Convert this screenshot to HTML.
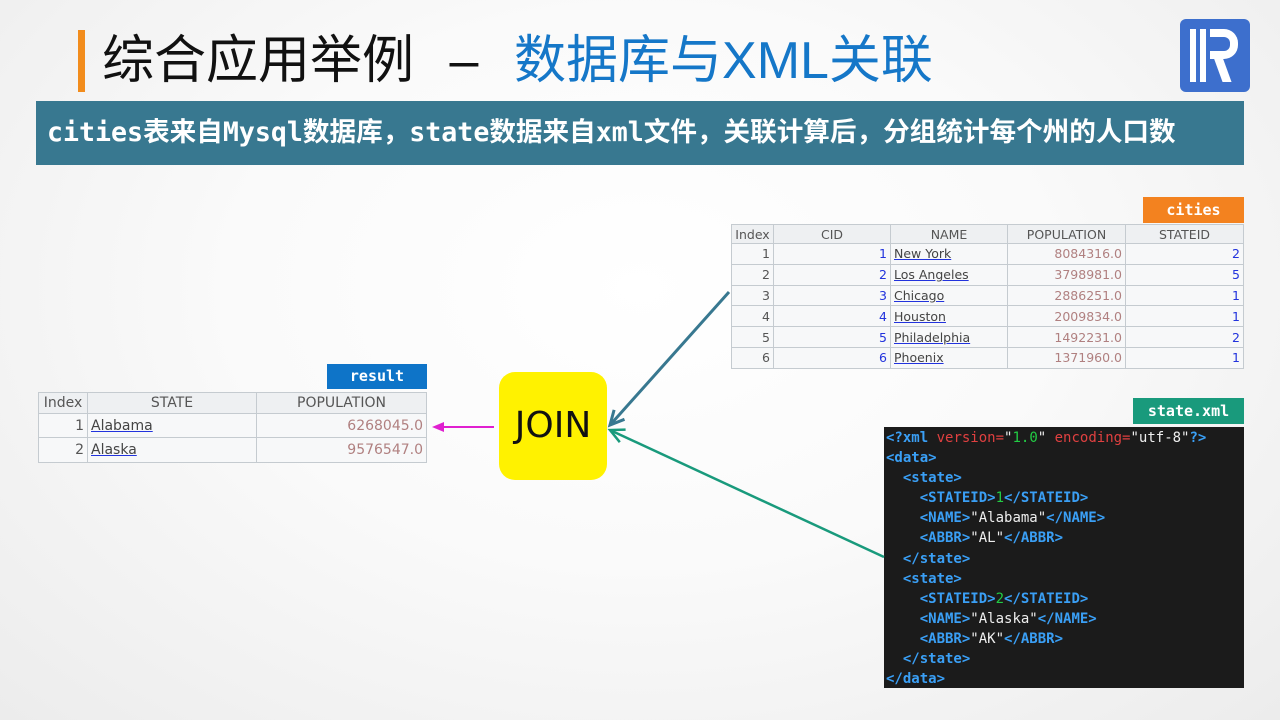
<!DOCTYPE html>
<html><head><meta charset="utf-8"><style>
*{margin:0;padding:0;box-sizing:border-box}
body{width:1280px;height:720px;overflow:hidden;position:relative;font-family:"Liberation Sans","Noto Sans CJK SC",sans-serif;background:radial-gradient(ellipse at 50% 40%,#ffffff 0%,#fafafa 45%,#ececec 100%)}
.abs{position:absolute}
.lbl{position:absolute;color:#fff;font-family:"DejaVu Sans Mono","Liberation Mono",monospace;font-weight:bold;font-size:15px;text-align:center}
table{border-collapse:collapse;position:absolute;font-family:"DejaVu Sans","Liberation Sans",sans-serif;font-size:12.5px;color:#555}
td,th{border:1.5px solid #c5cbd0;padding:0 3px;white-space:nowrap}
th{background:#eef0f2;font-weight:normal;color:#555}
td{background:#f7f8f9}
.r{text-align:right}.b{color:#2233dd}.p{color:#b08080}
.u{text-decoration:underline;text-decoration-color:#2233dd;color:#444}
.x{position:absolute;left:884px;top:427px;width:360px;height:261px;background:#1b1b1b;font-family:"DejaVu Sans Mono","Liberation Mono",monospace;font-size:14px;line-height:20.1px;padding:1px 0 0 2px;color:#eee;white-space:pre}
.t{color:#3a9ff5;font-weight:bold}.a{color:#e04040}.g{color:#22cc44}
</style></head><body>
<div class="abs" style="left:78px;top:30px;width:7px;height:62px;background:#f28c1c"></div>
<div class="abs" style="left:102px;top:27px;font-size:52px;line-height:68px;color:#111;white-space:nowrap">综合应用举例<span style="display:inline-block;width:100px;text-align:center">–</span><span style="color:#1577c8">数据库与XML关联</span></div>
<div class="abs" style="left:1180px;top:19px;width:70px;height:73px;background:#3d6fcd;border-radius:6px">
<div class="abs" style="left:10px;top:10px;width:6px;height:53px;background:#fff"></div>
<div class="abs" style="left:20px;top:10px;width:6px;height:53px;background:#fff"></div>
<div class="abs" style="left:30px;top:10px;width:28px;height:30px;border:8px solid #fff;border-left:none;border-radius:0 14px 14px 0"></div>
<div class="abs" style="left:38px;top:38px;width:22px;height:25px;border-left:9px solid #fff;transform:skewX(20deg)"></div>
</div>
<div class="abs" style="left:36px;top:101px;width:1208px;height:64px;background:#387890;color:#fff;font-size:26.6px;font-weight:bold;line-height:64px;padding-left:11px;white-space:nowrap;font-family:'DejaVu Sans Mono','Noto Sans CJK SC',monospace">cities表来自Mysql数据库，state数据来自xml文件，关联计算后，分组统计每个州的人口数</div>

<div class="lbl" style="left:1143px;top:197px;width:101px;height:26px;line-height:26px;background:#f3821f">cities</div>
<table style="left:731px;top:224px;width:513px">
<tr style="height:19px"><th style="width:42px">Index</th><th style="width:117px">CID</th><th style="width:117px">NAME</th><th style="width:118px">POPULATION</th><th>STATEID</th></tr>
<tr style="height:20.8px"><td class="r">1</td><td class="r b">1</td><td><span class="u">New York</span></td><td class="r p">8084316.0</td><td class="r b">2</td></tr>
<tr style="height:20.8px"><td class="r">2</td><td class="r b">2</td><td><span class="u">Los Angeles</span></td><td class="r p">3798981.0</td><td class="r b">5</td></tr>
<tr style="height:20.8px"><td class="r">3</td><td class="r b">3</td><td><span class="u">Chicago</span></td><td class="r p">2886251.0</td><td class="r b">1</td></tr>
<tr style="height:20.8px"><td class="r">4</td><td class="r b">4</td><td><span class="u">Houston</span></td><td class="r p">2009834.0</td><td class="r b">1</td></tr>
<tr style="height:20.8px"><td class="r">5</td><td class="r b">5</td><td><span class="u">Philadelphia</span></td><td class="r p">1492231.0</td><td class="r b">2</td></tr>
<tr style="height:20.8px"><td class="r">6</td><td class="r b">6</td><td><span class="u">Phoenix</span></td><td class="r p">1371960.0</td><td class="r b">1</td></tr>
</table>

<div class="lbl" style="left:327px;top:364px;width:100px;height:25px;line-height:25px;background:#0e74c8">result</div>
<table style="left:38px;top:392px;width:389px;font-size:14px">
<tr style="height:21px"><th style="width:49px">Index</th><th style="width:169px">STATE</th><th>POPULATION</th></tr>
<tr style="height:24px"><td class="r">1</td><td><span class="u">Alabama</span></td><td class="r p">6268045.0</td></tr>
<tr style="height:25px"><td class="r">2</td><td><span class="u">Alaska</span></td><td class="r p">9576547.0</td></tr>
</table>

<div class="abs" style="left:499px;top:372px;width:108px;height:108px;background:#fff200;border-radius:16px;text-align:center;line-height:108px;font-size:36px;color:#111;font-family:'DejaVu Sans',sans-serif">JOIN</div>

<div class="lbl" style="left:1133px;top:398px;width:111px;height:26px;line-height:26px;background:#199a7c">state.xml</div>
<div class="x"><span class="t">&lt;?xml</span> <span class="a">version=</span>"<span class="g">1.0</span>" <span class="a">encoding=</span>"utf-8"<span class="t">?&gt;</span>
<span class="t">&lt;data&gt;</span>
  <span class="t">&lt;state&gt;</span>
    <span class="t">&lt;STATEID&gt;</span><span class="g">1</span><span class="t">&lt;/STATEID&gt;</span>
    <span class="t">&lt;NAME&gt;</span>"Alabama"<span class="t">&lt;/NAME&gt;</span>
    <span class="t">&lt;ABBR&gt;</span>"AL"<span class="t">&lt;/ABBR&gt;</span>
  <span class="t">&lt;/state&gt;</span>
  <span class="t">&lt;state&gt;</span>
    <span class="t">&lt;STATEID&gt;</span><span class="g">2</span><span class="t">&lt;/STATEID&gt;</span>
    <span class="t">&lt;NAME&gt;</span>"Alaska"<span class="t">&lt;/NAME&gt;</span>
    <span class="t">&lt;ABBR&gt;</span>"AK"<span class="t">&lt;/ABBR&gt;</span>
  <span class="t">&lt;/state&gt;</span>
<span class="t">&lt;/data&gt;</span></div>

<svg class="abs" style="left:0;top:0" width="1280" height="720">
<line x1="729" y1="292" x2="611" y2="424" stroke="#387890" stroke-width="3"/>
<polyline points="624.5,419.3 610,425 614.1,409.9" fill="none" stroke="#387890" stroke-width="3" stroke-linejoin="miter"/>
<line x1="884" y1="557" x2="612" y2="431" stroke="#199a7c" stroke-width="2.5"/>
<polyline points="625.6,429.6 610,430 619.8,442.2" fill="none" stroke="#199a7c" stroke-width="2.5"/>
<line x1="494" y1="427" x2="435" y2="427" stroke="#e020d0" stroke-width="2"/>
<polygon points="432,427 444,422 444,432" fill="#e020d0"/>
</svg>
</body></html>
